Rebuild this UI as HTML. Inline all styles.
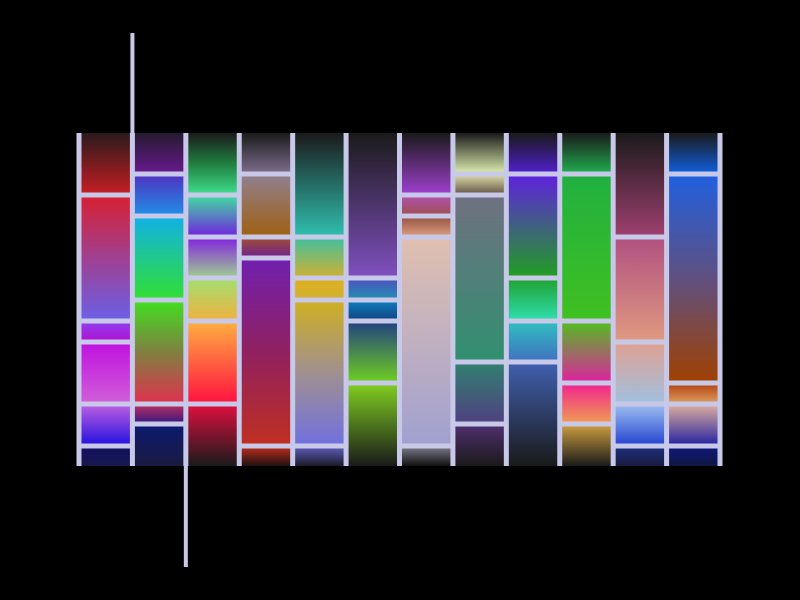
<!DOCTYPE html>
<html><head><meta charset="utf-8"><style>html,body{margin:0;background:#000;width:800px;height:600px;overflow:hidden}</style></head>
<body>
<svg id="chart" width="800" height="600" xmlns="http://www.w3.org/2000/svg"><defs id="defs"></defs><rect width="800" height="600" fill="#000"/></svg>
<script>
const columns=["c1","c2","c3","c4","c5","c6","c7","c8","c9","c10","c11","c12"];
const segSizes=[
[62,126,21,62,42,20],[41,42,84,104,20,42],[62,42,41,43,83,62],[41,63,21,188,20],
[104,41,22,146,20],[145,22,21,62,83],[62,21,21,209,20],[41,21,167,62,42],
[41,104,43,41,104],[41,147,62,41,42],[104,105,62,42,20],[41,209,21,42,20]];
const segColors=[
[["#2a1a1c","#c81e23"],["#d82030","#a04090","#6a60e8"],["#9040f0","#b010d0"],["#c010e0","#d060d8"],["#c060e0","#2010e0"],["#101060","#181850"]],
[["#251a30","#6a1a90"],["#5030c0","#2090e8"],["#10b0e8","#30e030"],["#40e020","#808040","#e03050"],["#c03060","#301880"],["#0c1a70","#1a1a40"]],
[["#1a1a1a","#208040","#40e090"],["#40e0a0","#7020e0"],["#8020e0","#a0d090"],["#a0e070","#f0b040"],["#ffb040","#ff1040"],["#e01040","#1a1a1a"]],
[["#1a1a1a","#807090"],["#908090","#a06010"],["#a05030","#702090"],["#7020b0","#902060","#c03020"],["#c03020","#201010"]],
[["#1a1a1a","#30c0b0"],["#40c0a0","#d0b030"],["#e0b020","#d0b030"],["#d0b020","#a09090","#7070e0"],["#6060c0","#1a1a2a"]],
[["#1a1a1a","#8050c0"],["#5050c0","#2090b0"],["#1080c0","#104080"],["#204080","#70d020"],["#80d020","#1a1a1a"]],
[["#1a1a1a","#a040d0"],["#b050b0","#a05050"],["#905040","#e0a080"],["#e0c0b0","#a0a0d0"],["#808090","#101010"]],
[["#1a1a1a","#e0f0b0"],["#e0e0b0","#605040"],["#707080","#309070"],["#308070","#504080"],["#503070","#1a1a1a"]],
[["#1a1a1a","#5020d0"],["#6020e0","#20a020"],["#20a030","#30e0b0"],["#30c0c0","#4070c0"],["#4060b0","#1a1a1a"]],
[["#1a1a1a","#20b050"],["#20b040","#40c020"],["#50c020","#e020a0"],["#f02090","#f0a050"],["#d0a040","#1a1a1a"]],
[["#1a1a1a","#a04070"],["#b05080","#e09a80"],["#e0a090","#a0c0e0"],["#a0c0f0","#2040d0"],["#1a3080","#1a1a40"]],
[["#1a1a1a","#1060e0"],["#2060e0","#605080","#a04000"],["#b04010","#e0a060"],["#e0b0a0","#2020a0"],["#101880","#101840"]]];
const NS="http://www.w3.org/2000/svg";
const svg=document.getElementById('chart'),defs=document.getElementById('defs');
const X0=79,X1=720,Y0=133,Y1=466,TOTAL=333;
const cw=(X1-X0)/columns.length;
const xs=i=>X0+i*cw;
const ys=v=>Y0+v*(Y1-Y0)/TOTAL;
const SEP="#c8c8e8",SW=5;
function mk(t,a){const e=document.createElementNS(NS,t);for(const k in a)e.setAttribute(k,a[k]);return e;}
const dividers=[];
columns.forEach((c,i)=>{
  let acc=0;const tot=segSizes[i].reduce((a,b)=>a+b,0);
  segSizes[i].forEach((s,j)=>{
    const v0=acc*TOTAL/tot,v1=(acc+s)*TOTAL/tot;acc+=s;
    const gid='g'+i+'_'+j;const g=mk('linearGradient',{id:gid,x1:0,y1:0,x2:0,y2:1});
    const cols=segColors[i][j];
    cols.forEach((col,k)=>g.appendChild(mk('stop',{offset:k/(cols.length-1),'stop-color':col})));
    defs.appendChild(g);
    const r=mk('rect',{x:xs(i),y:ys(v0),width:cw,height:ys(v1)-ys(v0),fill:'url(#'+gid+')'});
    
    
    svg.appendChild(r);
    if(j<segSizes[i].length-1){
      const l=mk('line',{x1:xs(i),x2:xs(i+1),y1:ys(v1),y2:ys(v1),stroke:SEP,'stroke-width':SW});
      
      
      dividers.push(l);
    }
  });
});
dividers.forEach(l=>svg.appendChild(l));
for(let i=0;i<=columns.length;i++){
  const l=mk('line',{x1:xs(i),x2:xs(i),y1:Y0,y2:Y1,stroke:SEP,'stroke-width':SW});
  
  
  svg.appendChild(l);
}
const a=mk('line',{x1:xs(1),x2:xs(1),y1:33,y2:Y0,stroke:SEP,'stroke-width':4});


svg.appendChild(a);
const b=mk('line',{x1:xs(2),x2:xs(2),y1:Y1,y2:567,stroke:SEP,'stroke-width':4});


svg.appendChild(b);
</script>
</body></html>
